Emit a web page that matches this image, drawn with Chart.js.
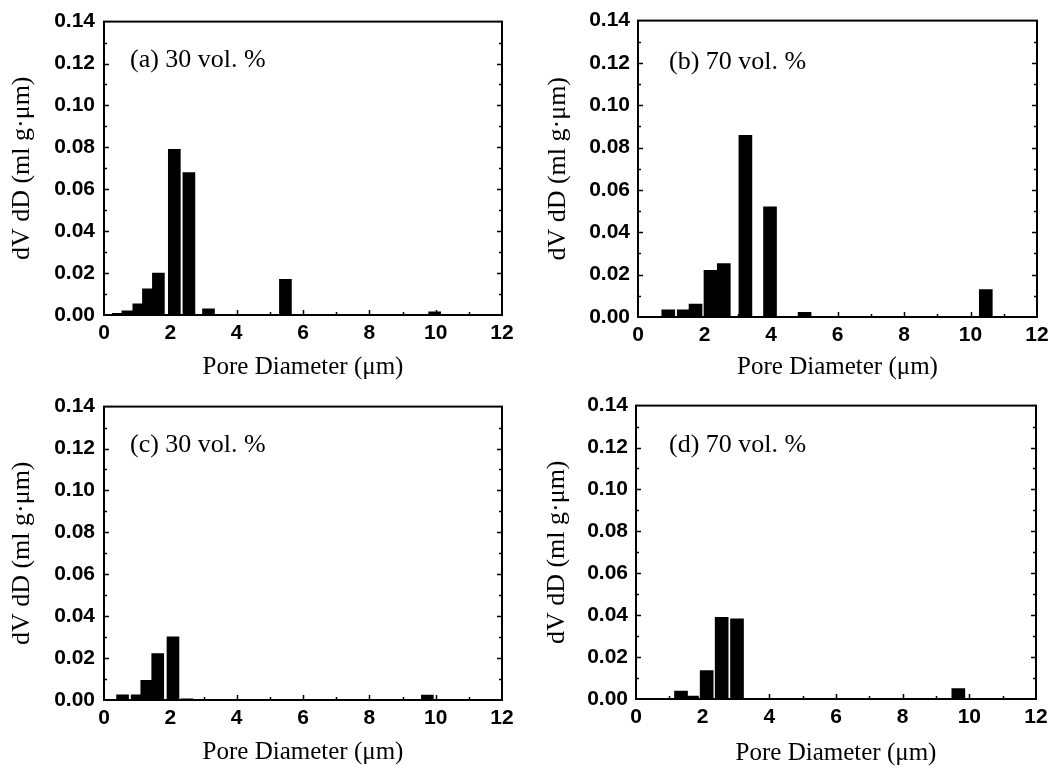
<!DOCTYPE html>
<html><head><meta charset="utf-8">
<script src="https://cdn.jsdelivr.net/npm/chart.js@4.4.0/dist/chart.umd.min.js"></script>
<style>
html,body{margin:0;padding:0;background:#fff;}
#wrap{position:relative;width:1061px;height:769px;background:#fff;}
.cell{position:absolute;width:530px;height:385px;}
</style></head><body>
<div id="wrap">
  <div class="cell" style="left:0;top:0"><canvas id="ca" width="530" height="385"></canvas></div>
  <div class="cell" style="left:530px;top:0"><canvas id="cb" width="530" height="385"></canvas></div>
  <div class="cell" style="left:0;top:385px"><canvas id="cc" width="530" height="385"></canvas></div>
  <div class="cell" style="left:530px;top:385px"><canvas id="cd" width="530" height="385"></canvas></div>
</div>
<script>
// ---- data ----
const xTickValues = [0, 2, 4, 6, 8, 10, 12];
const xTickLabels = ['0', '2', '4', '6', '8', '10', '12'];
const yTickValues = [0, 0.02, 0.04, 0.06, 0.08, 0.10, 0.12, 0.14];
const yTickLabels = ['0.00', '0.02', '0.04', '0.06', '0.08', '0.10', '0.12', '0.14'];
const xMinorValues = [1, 3, 5, 7, 9, 11];
const yMinorValues = [0.01, 0.03, 0.05, 0.07, 0.09, 0.11, 0.13];

const panelLabels = ['(a) 30 vol. %', '(b) 70 vol. %', '(c) 30 vol. %', '(d) 70 vol. %'];
const xTitle = 'Pore Diameter (\u03bcm)';
const yTitle = 'dV dD (ml g\u00b7\u03bcm)';

const diameterA = [0.43, 0.72, 1.05, 1.34, 1.64, 2.12, 2.56, 3.15, 5.47, 9.97];
const volumeA   = [0.0008, 0.002, 0.0053, 0.0125, 0.020, 0.079, 0.068, 0.003, 0.017, 0.0015];

const diameterB = [0.91, 1.375, 1.73, 2.18, 2.58, 3.23, 3.97, 5.01, 10.46];
const volumeB   = [0.0034, 0.0034, 0.0061, 0.022, 0.0252, 0.0858, 0.052, 0.0022, 0.013];

const diameterC = [0.56, 1.0, 1.29, 1.62, 2.08, 2.5, 9.75];
const volumeC   = [0.0025, 0.0025, 0.0094, 0.0222, 0.0302, 0.0005, 0.0023];

const diameterD = [1.35, 1.68, 2.12, 2.57, 3.03, 9.67];
const volumeD   = [0.0038, 0.0014, 0.0136, 0.039, 0.0383, 0.005];

// ---- drawing helpers ----
const deco = {
  id: 'panelDeco',
  afterDatasetsDraw(chart, args, opts) {
    const {ctx, chartArea: a, scales: {x, y}} = chart;
    ctx.save();
    ctx.strokeStyle = '#000';
    ctx.lineWidth = 1.5;
    ctx.beginPath();
    const tick = (vals, len) => {
      vals.forEach(v => {
        const py = Math.round(y.getPixelForValue(v)) + 0.5;
        ctx.moveTo(a.left, py); ctx.lineTo(a.left + len, py);
        ctx.moveTo(a.right, py); ctx.lineTo(a.right - len, py);
      });
    };
    tick(yTickValues.slice(1, -1), 5);
    tick(yMinorValues, 3);
    const tx = (vals, len) => {
      vals.forEach(v => {
        const px = Math.round(x.getPixelForValue(v)) + 0.5;
        ctx.moveTo(px, a.bottom); ctx.lineTo(px, a.bottom - len);
      });
    };
    tx(xTickValues.slice(1, -1), 5);
    tx(xMinorValues, 3);
    ctx.stroke();
    ctx.lineWidth = 2;
    ctx.strokeRect(a.left, a.top, a.right - a.left, a.bottom - a.top);
    ctx.fillStyle = '#000';
    ctx.font = opts.fontSize + 'px "Liberation Serif"';
    ctx.textAlign = 'left';
    ctx.textBaseline = 'middle';
    ctx.fillText(opts.label, opts.lx, opts.ly);
    ctx.restore();
  }
};

function makeChart(id, label, xs, ys, g) {
  const points = xs.map((v, i) => ({x: v, y: ys[i]}));
  return new Chart(document.getElementById(id), {
    type: 'bar',
    data: {datasets: [{data: points, backgroundColor: '#000', borderWidth: 0, barThickness: g.bar}]},
    options: {
      responsive: false,
      animation: false,
      events: [],
      layout: {padding: {left: 0, top: g.top, right: 530 - g.right, bottom: 0}},
      plugins: {
        legend: {display: false},
        tooltip: {enabled: false},
        panelDeco: {label: label, lx: g.lx, ly: g.ly, fontSize: 26}
      },
      scales: {
        x: {
          type: 'linear', min: 0, max: 12, offset: false,
          afterFit: s => { s.height = 385 - g.bottom; },
          afterBuildTicks: s => { s.ticks = xTickValues.map(v => ({value: v})); },
          ticks: {
            padding: 6, color: '#000', autoSkip: false, maxRotation: 0,
            font: {family: 'Liberation Sans', weight: 'bold', size: 21},
            callback: (v, i) => xTickLabels[i]
          },
          grid: {display: false, drawTicks: false},
          border: {display: true, color: '#000', width: 2},
          title: {
            display: true, text: xTitle, color: '#000',
            font: {family: 'Liberation Serif', size: 25, lineHeight: 1.2},
            padding: {top: 0, bottom: 385 - g.xtc - 15}
          }
        },
        y: {
          type: 'linear', min: 0, max: 0.14,
          afterFit: s => { s.width = g.left; },
          afterBuildTicks: s => { s.ticks = yTickValues.map(v => ({value: v})); },
          ticks: {
            padding: g.tp, color: '#000', autoSkip: false,
            font: {family: 'Liberation Sans', weight: 'bold', size: 21},
            callback: (v, i) => yTickLabels[i]
          },
          grid: {display: false, drawTicks: false},
          border: {display: true, color: '#000', width: 2},
          title: {
            display: true, text: yTitle, color: '#000',
            font: {family: 'Liberation Serif', size: 26, lineHeight: 1.2},
            padding: {top: g.ytc - 15.6, bottom: 0}
          }
        }
      }
    },
    plugins: [deco]
  });
}

makeChart('ca', panelLabels[0], diameterA, volumeA,
  {left: 104, right: 502, top: 17, bottom: 315, bar: 12, tp: 9, ytc: 22, xtc: 367, lx: 130, ly: 60});
makeChart('cb', panelLabels[1], diameterB, volumeB,
  {left: 108, right: 507, top: 19, bottom: 317, bar: 13, tp: 8, ytc: 28, xtc: 367, lx: 139, ly: 62});
makeChart('cc', panelLabels[2], diameterC, volumeC,
  {left: 104, right: 502, top: 17, bottom: 315, bar: 12, tp: 9, ytc: 22, xtc: 367, lx: 130, ly: 60});
makeChart('cd', panelLabels[3], diameterD, volumeD,
  {left: 106, right: 506, top: 16, bottom: 314, bar: 13, tp: 8, ytc: 27, xtc: 368, lx: 139, ly: 60});
</script>
</body></html>
